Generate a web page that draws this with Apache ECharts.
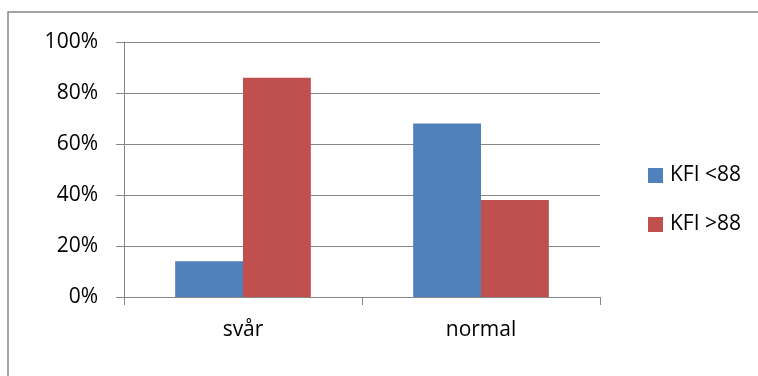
<!DOCTYPE html>
<html>
<head>
<meta charset="utf-8">
<script src="https://cdn.jsdelivr.net/npm/echarts@6/dist/echarts.min.js"></script>
<style>
html,body{margin:0;padding:0;background:#fff;}
#c{width:758px;height:376px;}
</style>
</head>
<body>
<div id="c"></div>
<script>
const categories = ['svår', 'normal'];
const seriesNames = ['KFI <88', 'KFI >88'];
const kfiUnder88 = [14, 68];
const kfiOver88 = [86, 38];
const yTicks = [0, 20, 40, 60, 80, 100];

const chart = echarts.init(document.getElementById('c'));
const FONT = 'Open Sans';
const GRAY = '#868686';
chart.setOption({
  animation: false,
  backgroundColor: '#fff',
  textStyle: {fontFamily: FONT},
  graphic: [{
    type: 'rect',
    shape: {x: 8, y: 12, width: 770, height: 390},
    style: {fill: 'none', stroke: GRAY, lineWidth: 1.5},
    silent: true
  }],
  grid: {left: 124, right: 158, top: 42, bottom: 79},
  legend: {
    orient: 'vertical',
    left: 643,
    top: 160,
    itemWidth: 15,
    itemHeight: 15,
    itemGap: 28,
    icon: 'rect',
    textStyle: {fontFamily: FONT, fontSize: 21, color: '#000', padding: [0, 0, 0, 2]},
    data: seriesNames
  },
  xAxis: {
    type: 'category',
    data: categories,
    axisLine: {lineStyle: {color: GRAY, width: 1}},
    axisTick: {show: true, length: 8, lineStyle: {color: GRAY}},
    axisLabel: {fontFamily: FONT, fontSize: 21, color: '#000', margin: 23}
  },
  yAxis: {
    type: 'value',
    min: yTicks[0],
    max: yTicks[yTicks.length - 1],
    interval: 20,
    axisLine: {show: true, lineStyle: {color: GRAY, width: 1}},
    axisTick: {show: true, length: 8, lineStyle: {color: GRAY}},
    splitLine: {show: true, lineStyle: {color: GRAY, width: 1}},
    axisLabel: {fontFamily: FONT, fontSize: 21, color: '#000', margin: 26, formatter: '{value}%'}
  },
  series: [
    {name: seriesNames[0], type: 'bar', data: kfiUnder88, barGap: '0%', barCategoryGap: '43%',
     itemStyle: {color: '#4F81BD'}},
    {name: seriesNames[1], type: 'bar', data: kfiOver88, barGap: '0%', barCategoryGap: '43%',
     itemStyle: {color: '#C0504D'}}
  ]
});
</script>
</body>
</html>
